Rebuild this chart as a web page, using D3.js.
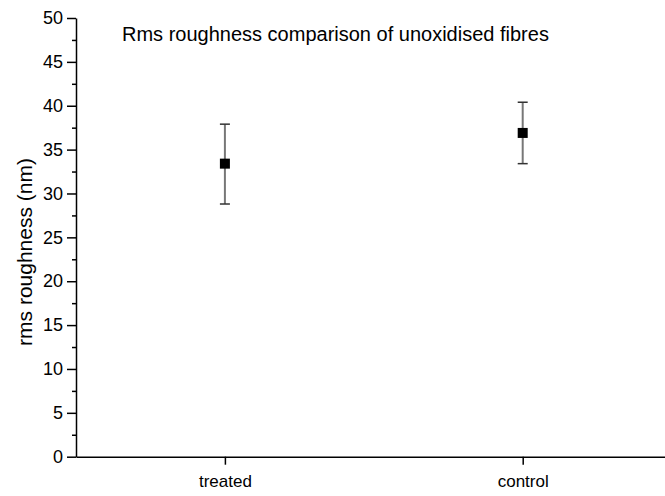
<!DOCTYPE html>
<html>
<head>
<meta charset="utf-8">
<script src="https://cdn.jsdelivr.net/npm/d3@7"></script>
<style>
  body { margin: 0; background: #fff; }
  text { font-family: "Liberation Sans", Arial, sans-serif; fill: #000; }
</style>
</head>
<body>
<div id="chart"></div>
<script>
var categories = ["treated", "control"];
var means = [33.4, 36.9];
var errUpper = [37.9, 40.4];
var errLower = [28.8, 33.4];
var yTicks = [0, 5, 10, 15, 20, 25, 30, 35, 40, 45, 50];
var yMinorTicks = [2.5, 7.5, 12.5, 17.5, 22.5, 27.5, 32.5, 37.5, 42.5, 47.5];

var width = 665, height = 496;
var margin = {top: 18, right: 0, bottom: 39, left: 76};

var svg = d3.select("#chart")
    .append("svg")
        .attr("width", width)
        .attr("height", height);

var x = d3.scaleLinear()
    .domain([0.5, 2.5])
    .range([margin.left, 671.6]);

var y = d3.scaleLinear()
    .domain([0, 50])
    .range([height - margin.bottom - 0.3, margin.top]);

// y axis, minor ticks first
svg.append("g")
    .attr("transform", "translate(" + margin.left + ",0)")
    .call(d3.axisLeft(y).tickValues(yMinorTicks).tickSize(4).tickFormat(""))
    .call(g => g.select(".domain").remove())
    .selectAll("line").attr("stroke-width", 1.5);

var yAxis = svg.append("g")
    .attr("transform", "translate(" + margin.left + ",0)")
    .call(d3.axisLeft(y).tickValues(yTicks).tickSize(9).tickSizeOuter(0).tickPadding(4));
yAxis.select(".domain").attr("stroke-width", 1.5);
yAxis.selectAll("line").attr("stroke-width", 1.5);
yAxis.selectAll("text")
    .attr("font-size", 18)
    .attr("font-family", "Liberation Sans, Arial, sans-serif");

// x axis
var xAxis = svg.append("g")
    .attr("transform", "translate(0," + y(0) + ")")
    .call(d3.axisBottom(x)
        .tickValues([1, 2])
        .tickFormat((d, i) => categories[i])
        .tickSize(8)
        .tickSizeOuter(0)
        .tickPadding(10));
xAxis.select(".domain").attr("stroke-width", 1.5);
xAxis.selectAll("line").attr("stroke-width", 1.5);
xAxis.selectAll("text")
    .attr("font-size", 17)
    .attr("font-family", "Liberation Sans, Arial, sans-serif");

// error bars
var pts = categories.map((c, i) => ({i: i + 1, m: means[i], hi: errUpper[i], lo: errLower[i]}));

var eb = svg.append("g");
eb.selectAll(".stem")
    .data(pts).enter().append("line")
        .attr("x1", d => x(d.i)).attr("x2", d => x(d.i))
        .attr("y1", d => y(d.hi)).attr("y2", d => y(d.lo))
        .attr("stroke", "#777")
        .attr("stroke-width", 2);
eb.selectAll(".capHi")
    .data(pts).enter().append("line")
        .attr("x1", d => x(d.i) - 5).attr("x2", d => x(d.i) + 5)
        .attr("y1", d => y(d.hi)).attr("y2", d => y(d.hi))
        .attr("stroke", "#333")
        .attr("stroke-width", 1.5);
eb.selectAll(".capLo")
    .data(pts).enter().append("line")
        .attr("x1", d => x(d.i) - 5).attr("x2", d => x(d.i) + 5)
        .attr("y1", d => y(d.lo)).attr("y2", d => y(d.lo))
        .attr("stroke", "#333")
        .attr("stroke-width", 1.5);

// markers
svg.append("g").selectAll("rect")
    .data(pts).enter().append("rect")
        .attr("x", d => x(d.i) - 5)
        .attr("y", d => y(d.m) - 5)
        .attr("width", 10)
        .attr("height", 10)
        .attr("fill", "#000");

// title
svg.append("text")
    .attr("x", 122)
    .attr("y", 41)
    .attr("font-size", 20)
    .text("Rms roughness comparison of unoxidised fibres");

// y label
svg.append("text")
    .attr("transform", "translate(32,252) rotate(-90)")
    .attr("text-anchor", "middle")
    .attr("font-size", 21)
    .text("rms roughness (nm)");
</script>
</body>
</html>
